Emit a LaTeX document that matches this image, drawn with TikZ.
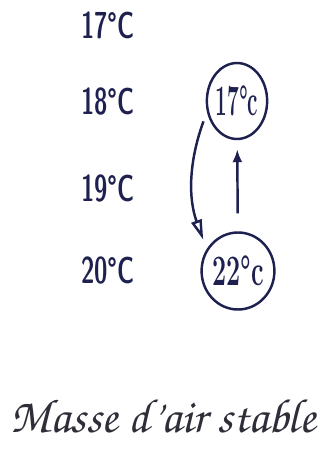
\documentclass[tikz,border=0pt]{standalone}
\usepackage[T1,TU]{fontenc}
\usetikzlibrary{shapes.geometric,arrows.meta}
\definecolor{inkNavy}{HTML}{1E2150}
\definecolor{inkGrey}{HTML}{2E2E38}

\begin{document}
\begin{tikzpicture}[x=0.03cm, y=-0.03cm, color=inkNavy, line width=2.1pt,
  temp/.style={font=\sffamily\fontseries{sbc}\fontsize{32}{32}\selectfont},
  parcel/.style={draw, ellipse, inner sep=0pt, font=\bfseries\fontsize{37}{37}\selectfont}]
  \useasboundingbox (0,0) rectangle (320,455);
  % altitude temperatures
  \foreach \t/\y in {17/25,18/101,19/188,20/270}
    \node[temp] (lvl\t) at (108,\y) {\scalebox{0.75}[1]{\t°C}};
  % rising parcel
  \node[parcel, minimum width=1.8cm, minimum height=2.28cm] (top) at (237,101) {\scalebox{0.48}[1]{17°c}};
  \node[parcel, minimum width=1.83cm, minimum height=2.31cm] (bot) at (238,271) {\scalebox{0.58}[1]{22°c}};
  \draw[-{Latex[length=0.39cm,width=0.3cm]}, shorten <=0.54cm, shorten >=0.27cm] (bot) -- (top);
  % sinking back
  \draw[-{Triangle[open,length=0.6cm,width=0.32cm]}, shorten <=0.3cm, shorten >=0.3cm] (top.200) to[out=250,in=110] (bot.145);
  % caption
  \node[color=inkGrey, anchor=base] (caption) at (163,432) {\fontencoding{T1}\fontfamily{pzc}\fontseries{mb}\fontshape{it}\fontsize{41}{41}\selectfont Masse d'air stable};
\end{tikzpicture}
\end{document}
